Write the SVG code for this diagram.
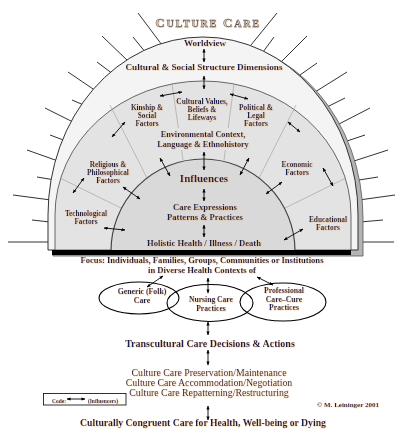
<svg xmlns="http://www.w3.org/2000/svg" width="396" height="430" viewBox="0 0 396 430">
<defs>
<style>
.t{font-family:"Liberation Serif","Times New Roman",serif;font-weight:bold;fill:#16224d;text-anchor:middle;filter:url(#glow)}
.r{font-weight:normal}
.ray{stroke:#333;stroke-width:1}
.div{stroke:#9a9a9a;stroke-width:0.6;fill:none}
.ar{stroke:#000;stroke-width:0.9;marker-start:url(#ah);marker-end:url(#ah)}
.ell{fill:none;stroke:#000;stroke-width:1.1}
</style>
<filter id="glow" x="-5%" y="-20%" width="110%" height="140%">
<feDropShadow dx="0.45" dy="0.45" stdDeviation="0.3" flood-color="#e8a040" flood-opacity="0.65"/>
</filter>
<marker id="ah" viewBox="0 0 10 10" refX="9" refY="5" markerWidth="4" markerHeight="4" markerUnits="userSpaceOnUse" orient="auto-start-reverse">
<path d="M0,1 L10,5 L0,9 Z" fill="#000"/>
</marker>
</defs>
<rect width="396" height="430" fill="#fff"/>

<g id="rays">
<line class="ray" x1="138" y1="13" x2="162" y2="45"/>
<line class="ray" x1="133" y1="37" x2="146" y2="53"/>
<line class="ray" x1="102" y1="36" x2="129" y2="62"/>
<line class="ray" x1="97" y1="62" x2="113" y2="74"/>
<line class="ray" x1="68" y1="72" x2="99" y2="93"/>
<line class="ray" x1="72" y1="100" x2="86" y2="106"/>
<line class="ray" x1="45" y1="108" x2="75" y2="123"/>
<line class="ray" x1="50" y1="135" x2="66" y2="141"/>
<line class="ray" x1="27" y1="150" x2="58" y2="161"/>
<line class="ray" x1="37" y1="177" x2="55" y2="180"/>
<line class="ray" x1="13" y1="195" x2="51" y2="200"/>
<line class="ray" x1="32" y1="220" x2="50" y2="222"/>
<line class="ray" x1="8" y1="242" x2="51" y2="242"/>
<line class="ray" x1="277" y1="13" x2="251" y2="45"/>
<line class="ray" x1="274" y1="37" x2="263" y2="52"/>
<line class="ray" x1="307" y1="36" x2="281" y2="62"/>
<line class="ray" x1="317" y1="63" x2="300" y2="75"/>
<line class="ray" x1="347" y1="72" x2="315" y2="92"/>
<line class="ray" x1="345" y1="98" x2="327" y2="107"/>
<line class="ray" x1="370" y1="108" x2="339" y2="124"/>
<line class="ray" x1="365" y1="135" x2="347" y2="141"/>
<line class="ray" x1="388" y1="150" x2="354" y2="161"/>
<line class="ray" x1="378" y1="177" x2="359" y2="180"/>
<line class="ray" x1="395" y1="195" x2="359" y2="200"/>
<line class="ray" x1="383" y1="220" x2="360" y2="222"/>
<line class="ray" x1="394" y1="242" x2="360" y2="242"/>
</g>

<g id="dome">
<path d="M53,256 L53,218 A155,178 0 0 1 363,218 L363,256 Z" fill="#b4b4b4" stroke="#555" stroke-width="0.8"/>
<path d="M48,250 L48,215 A155,178 0 0 1 358,215 L358,250 Z" fill="#f4f4f4" stroke="#333" stroke-width="1"/>
<path d="M55,250 L55,215 A148,134 0 0 1 351,215 L351,250 Z" fill="#e3e3e3" stroke="#444" stroke-width="0.8"/>
<line class="div" x1="172" y1="84" x2="178.4" y2="128"/>
<line class="div" x1="181.6" y1="150" x2="183" y2="160"/>
<line class="div" x1="234" y1="84" x2="228.2" y2="128"/>
<line class="div" x1="225.3" y1="150" x2="224" y2="160"/>
<line class="div" x1="110" y1="105" x2="147" y2="178"/>
<line class="div" x1="296" y1="105" x2="259" y2="178"/>
<line class="div" x1="60" y1="178" x2="121" y2="208"/>
<line class="div" x1="346" y1="178" x2="285" y2="208"/>
<path d="M111,251 A92,92 0 0 1 295,251 Z" fill="#d9d9d9" stroke="#444" stroke-width="1.2"/>
<rect x="52" y="250" width="299" height="5" fill="#000"/>
</g>

<g id="title">
<text x="208" y="27" font-family="Liberation Serif, serif" font-weight="bold" text-anchor="middle" fill="#d0d0d0" stroke="#4a4a4a" stroke-width="0.4" letter-spacing="1.8" filter="url(#glow)"><tspan font-size="13">C</tspan><tspan font-size="10">ULTURE</tspan><tspan font-size="13"> C</tspan><tspan font-size="10">ARE</tspan></text>
</g>

<g id="worldview"><text class="t" x="205" y="46" font-size="9">Worldview</text></g>
<g id="cultural-social"><text class="t" x="204" y="70" font-size="9.2">Cultural &amp; Social Structure Dimensions</text></g>
<g id="kinship"><text class="t" x="147" y="110" font-size="7.2">Kinship &amp;<tspan x="147" dy="8">Social</tspan><tspan x="147" dy="8">Factors</tspan></text></g>
<g id="cultural-values"><text class="t" x="202" y="104" font-size="7.4">Cultural Values,<tspan x="202" dy="8">Beliefs &amp;</tspan><tspan x="202" dy="8">Lifeways</tspan></text></g>
<g id="political"><text class="t" x="256" y="110" font-size="7.4">Political &amp;<tspan x="256" dy="8">Legal</tspan><tspan x="256" dy="8">Factors</tspan></text></g>
<g id="environmental"><text class="t" x="203" y="137" font-size="8.2">Environmental Context,<tspan x="203" dy="10">Language &amp; Ethnohistory</tspan></text></g>
<g id="religious"><text class="t" x="108" y="167" font-size="7.3">Religious &amp;<tspan x="108" dy="8">Philosophical</tspan><tspan x="108" dy="8">Factors</tspan></text></g>
<g id="economic"><text class="t" x="297" y="167" font-size="7.3">Economic<tspan x="297" dy="8">Factors</tspan></text></g>
<g id="technological"><text class="t" x="86" y="216" font-size="7.2">Technological<tspan x="86" dy="8">Factors</tspan></text></g>
<g id="educational"><text class="t" x="328" y="222" font-size="7.4">Educational<tspan x="328" dy="8">Factors</tspan></text></g>
<g id="influences"><text class="t" x="204" y="182" font-size="11">Influences</text></g>
<g id="care-expressions"><text class="t" x="205" y="210" font-size="8.6">Care Expressions<tspan x="205" dy="10">Patterns &amp; Practices</tspan></text></g>
<g id="holistic"><text class="t" x="204" y="246" font-size="8.6">Holistic Health / Illness / Death</text></g>

<g id="focus"><text class="t" x="202" y="263" font-size="8.6">Focus:  Individuals, Families, Groups, Communities or Institutions<tspan x="202" dy="10">in Diverse Health Contexts of</tspan></text></g>

<g id="generic">
<ellipse class="ell" cx="139" cy="298" rx="40" ry="16"/>
<text class="t" x="142" y="294" font-size="7.8">Generic (Folk)<tspan x="142" dy="9">Care</tspan></text>
</g>
<g id="nursing">
<ellipse class="ell" cx="210" cy="303" rx="43" ry="18.5"/>
<text class="t" x="211" y="302" font-size="7.6">Nursing Care<tspan x="211" dy="8.5">Practices</tspan></text>
</g>
<g id="professional">
<ellipse class="ell" cx="283" cy="302" rx="43" ry="19"/>
<text class="t" x="284" y="293" font-size="7.7">Professional<tspan x="284" dy="8.5">Care–Cure</tspan><tspan x="284" dy="8.5">Practices</tspan></text>
</g>

<g id="transcultural"><text class="t" x="210" y="347" font-size="10">Transcultural Care Decisions &amp; Actions</text></g>
<g id="modes"><text class="t r" x="209" y="376" font-size="9.8">Culture Care Preservation/Maintenance<tspan x="209" dy="10">Culture Care Accommodation/Negotiation</tspan><tspan x="209" dy="10">Culture Care Repatterning/Restructuring</tspan></text></g>
<g id="legend">
<rect x="43.5" y="393.5" width="82.5" height="11.5" fill="#fff" stroke="#000" stroke-width="0.8"/>
<text class="t" x="59" y="402.5" font-size="5.5">Code:</text>
<text class="t" x="103" y="402.5" font-size="5.5">(Influencers)</text>
</g>
<g id="copyright"><text class="t" x="348" y="407" font-size="7">© M. Leininger 2001</text></g>
<g id="congruent"><text class="t" x="203" y="426" font-size="9.7">Culturally Congruent Care for Health, Well-being or Dying</text></g>

<g id="connectors">
<line class="ar" x1="204" y1="49" x2="204" y2="62"/>
<line class="ar" x1="204" y1="76" x2="204" y2="89"/>
<line class="ar" x1="160" y1="96" x2="182" y2="92"/>
<line class="ar" x1="230" y1="94" x2="248" y2="99"/>
<line class="ar" x1="112" y1="137" x2="125" y2="122"/>
<line class="ar" x1="288" y1="122" x2="300" y2="132"/>
<line class="ar" x1="73" y1="193" x2="84" y2="178"/>
<line class="ar" x1="323" y1="168" x2="333" y2="186"/>
<line class="ar" x1="204" y1="152" x2="204" y2="170"/>
<line class="ar" x1="160" y1="158" x2="170" y2="176"/>
<line class="ar" x1="249" y1="158" x2="240" y2="175"/>
<line class="ar" x1="123" y1="187" x2="140" y2="199"/>
<line class="ar" x1="282" y1="182" x2="266" y2="194"/>
<line class="ar" x1="104" y1="228" x2="125" y2="230"/>
<line class="ar" x1="284" y1="240" x2="303" y2="229"/>
<line class="ar" x1="204" y1="189" x2="204" y2="201"/>
<line class="ar" x1="204" y1="225" x2="204" y2="237"/>
<line class="ar" x1="147" y1="287" x2="163" y2="276"/>
<line class="ar" x1="208" y1="278" x2="208" y2="293"/>
<line class="ar" x1="257" y1="277" x2="273" y2="285"/>
<line class="ar" x1="208" y1="322" x2="208" y2="335"/>
<line class="ar" x1="208" y1="350" x2="208" y2="365"/>
<line class="ar" x1="208" y1="406" x2="208" y2="420"/>
<line class="ar" x1="67" y1="399" x2="85" y2="399"/>
</g>
</svg>
